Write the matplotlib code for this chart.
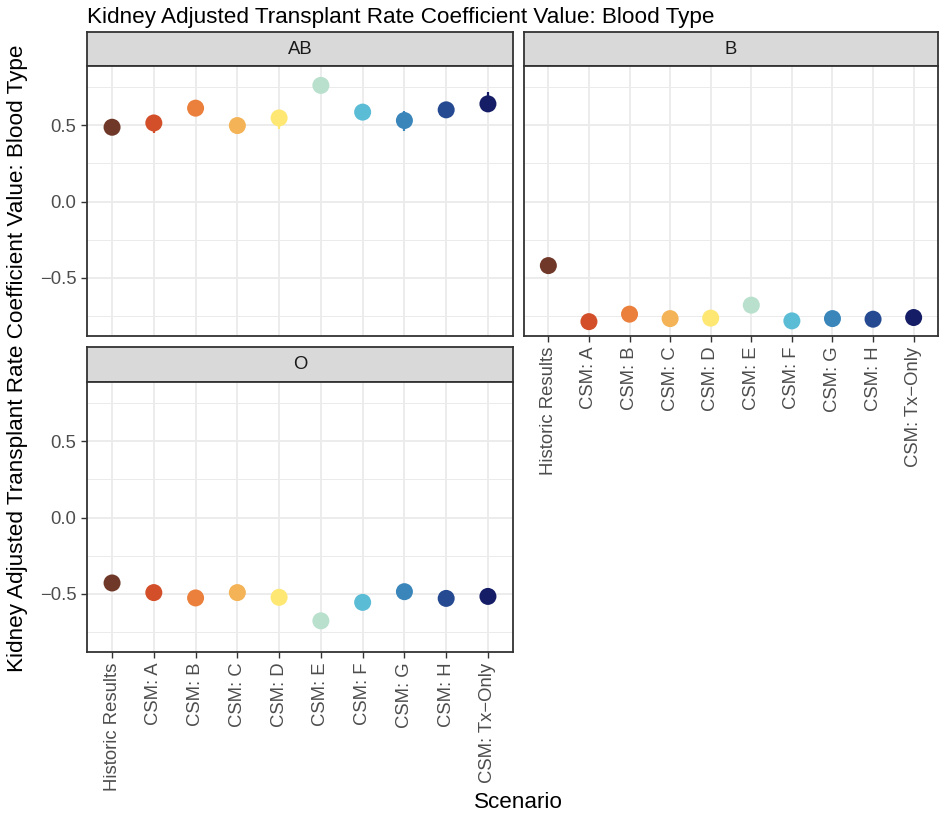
import numpy as np
import matplotlib.pyplot as plt

plt.rcParams['font.family'] = ['Liberation Sans', 'DejaVu Sans']

# Data
scenarios = ["Historic Results", "CSM: A", "CSM: B", "CSM: C", "CSM: D",
             "CSM: E", "CSM: F", "CSM: G", "CSM: H", "CSM: Tx\u2212Only"]
colors = ["#6F3829", "#D24F29", "#EB803D", "#F3B356", "#FEE873",
          "#B8E0CD", "#5BBCD6", "#3A86BA", "#254A91", "#151D66"]

ab_vals = [0.487, 0.515, 0.612, 0.498, 0.548, 0.761, 0.586, 0.531, 0.601, 0.640]
ab_lo = [0.487, 0.447, 0.612, 0.498, 0.474, 0.761, 0.586, 0.461, 0.601, 0.610]
ab_hi = [0.487, 0.540, 0.612, 0.498, 0.560, 0.761, 0.586, 0.595, 0.601, 0.719]

b_vals = [-0.419, -0.786, -0.737, -0.766, -0.763, -0.678, -0.781, -0.766, -0.770, -0.759]
o_vals = [-0.428, -0.491, -0.526, -0.491, -0.522, -0.676, -0.555, -0.485, -0.529, -0.516]

W, H = 939, 819
fig = plt.figure(figsize=(W / 100, H / 100), dpi=100)

FS = 13.3
TITLE_FS = 16.2
GRID = "#EBEBEB"
BORDER = "#333333"


def px_axes(x0, y0, x1, y1):
    return fig.add_axes([x0 / W, 1 - y1 / H, (x1 - x0) / W, (y1 - y0) / H])


def strip(x0, y0, x1, y1, label):
    s = px_axes(x0, y0, x1, y1)
    s.set_facecolor("#D9D9D9")
    s.set_xticks([])
    s.set_yticks([])
    for sp in s.spines.values():
        sp.set_color(BORDER)
        sp.set_linewidth(1.3)
    s.text(0.5, 0.5, label, ha="center", va="center", fontsize=FS, color="#1A1A1A",
           transform=s.transAxes)


def panel(x0, y0, x1, y1, vals, lo=None, hi=None, show_y=True, show_x=True):
    ax = px_axes(x0, y0, x1, y1)
    x = np.arange(len(scenarios))
    ax.set_xlim(-0.6, len(scenarios) - 0.4)
    ax.set_ylim(-0.88, 0.888)
    ax.set_yticks([-0.5, 0.0, 0.5])
    ax.set_yticks([-0.75, -0.25, 0.25, 0.75], minor=True)
    ax.set_xticks(x)
    ax.grid(True, which="major", color=GRID, lw=1.3)
    ax.grid(True, which="minor", axis="y", color=GRID, lw=0.7)
    ax.set_axisbelow(True)
    if lo is not None:
        ax.vlines(x, lo, hi, colors=colors, lw=1.6, zorder=2)
    ax.scatter(x, vals, c=colors, s=150, zorder=3, edgecolors="none")
    for sp in ax.spines.values():
        sp.set_color(BORDER)
        sp.set_linewidth(1.3)
    ax.tick_params(which="major", length=4, color=BORDER, labelsize=FS,
                   labelcolor="#4D4D4D", width=1)
    ax.tick_params(which="minor", length=0)
    if show_y:
        ax.set_yticklabels(["\u22120.5", "0.0", "0.5"])
    else:
        ax.tick_params(axis="y", which="major", length=0, labelleft=False)
    if show_x:
        ax.set_xticklabels(scenarios, rotation=90, va="top", ha="center")
    else:
        ax.tick_params(axis="x", which="major", length=0, labelbottom=False)
    return ax


# AB panel
strip(87, 32, 513, 66, "AB")
panel(87, 66, 513, 336, ab_vals, ab_lo, ab_hi, show_y=True, show_x=False)

# B panel
strip(524, 32, 938, 66, "B")
panel(524, 66, 938, 336, b_vals, show_y=False, show_x=True)

# O panel
strip(87, 347, 513, 382, "O")
panel(87, 382, 513, 652, o_vals, show_y=True, show_x=True)

fig.text(87 / W, 1 - 17 / H, "Kidney Adjusted Transplant Rate Coefficient Value: Blood Type",
         ha="left", va="center", fontsize=TITLE_FS, color="black")
fig.text(18 / W, 1 - 358 / H, "Kidney Adjusted Transplant Rate Coefficient Value: Blood Type",
         ha="center", va="center", rotation=90, fontsize=TITLE_FS, color="black")
fig.text(518 / W, 1 - 803 / H, "Scenario", ha="center", va="center", fontsize=TITLE_FS, color="black")

fig.savefig("out.png", dpi=100)
